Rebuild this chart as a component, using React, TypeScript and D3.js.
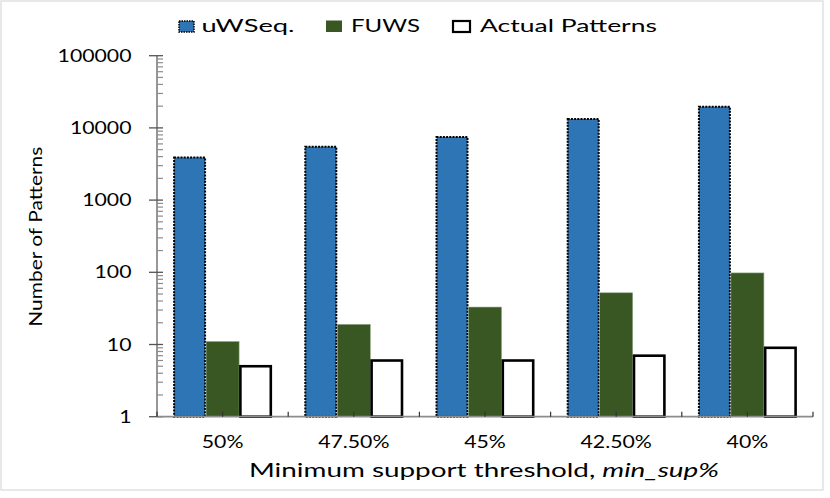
import React from "react";
import * as d3 from "d3";

const categories = ["50%", "47.50%", "45%", "42.50%", "40%"];
const seriesNames = ["uWSeq.", "FUWS", "Actual Patterns"];
const uwseqValues = [3900, 5500, 7500, 13300, 19700];
const fuwsValues = [11, 19, 33, 52, 98];
const actualValues = [5, 6, 6, 7, 9];
const yTickValues = [1, 10, 100, 1000, 10000, 100000];

const W = 830;
const H = 498;
const FONT = "Lato, 'Noto Sans', sans-serif";
const SX = 1.25; // glyphs are wider than tall in the source

const left = 157;
const right = 813;
const top = 55.7;
const bottom = 416.7;

const App = () => {
  const y = d3.scaleLog().domain([1, 100000]).range([bottom, top]);
  const x0 = d3.scaleBand<string>().domain(categories).range([left, right]).padding(0);
  const x1 = d3
    .scaleBand<string>()
    .domain(seriesNames)
    .range([0, x0.bandwidth()])
    .paddingInner(0)
    .paddingOuter(0.488);

  const rows = categories.map((c, i) => ({
    category: c,
    values: [uwseqValues[i], fuwsValues[i], actualValues[i]],
  }));

  // minor ticks 2..9 within each decade
  const minor: number[] = [];
  for (let d = 1; d < 100000; d *= 10) {
    for (let k = 2; k <= 9; k++) minor.push(d * k);
  }

  // x ticks at band edges and centres
  const xTicks: number[] = [];
  categories.forEach((c) => {
    xTicks.push(x0(c)!, x0(c)! + x0.bandwidth() / 2);
  });
  xTicks.push(right);

  const barStyle = (s: number) => {
    if (s === 0)
      return { fill: "#2e75b6", stroke: "#000", strokeWidth: 2, strokeDasharray: "2 1.2" };
    if (s === 1) return { fill: "#385723", stroke: "#8fa585", strokeWidth: 0.6 };
    return { fill: "#fff", stroke: "#000", strokeWidth: 2.6 };
  };

  return (
    <svg
      width={W}
      height={H}
      style={{ position: "absolute", left: 0, top: 0, background: "#fff" }}
      fontFamily={FONT}
    >
      <rect x={1} y={1} width={822} height={489} fill="#fff" stroke="#d9d9d9" strokeWidth={1.2} />

      {/* Legend */}
      <g>
        <rect x={179} y={21} width={15} height={11} fill="#2e75b6" stroke="#000" strokeWidth={1.5} strokeDasharray="1.5 1" />
        <text x={201.5} y={32} fontSize={17} textLength={93} lengthAdjust="spacingAndGlyphs" fill="#000">
          {seriesNames[0]}
        </text>
        <rect x={326} y={20.5} width={16} height={11.5} fill="#385723" />
        <text x={351} y={32} fontSize={17} textLength={69} lengthAdjust="spacingAndGlyphs" fill="#000">
          {seriesNames[1]}
        </text>
        <rect x={453} y={21} width={17} height={11} fill="#fff" stroke="#000" strokeWidth={2.2} />
        <text x={480} y={32} fontSize={17} textLength={177} lengthAdjust="spacingAndGlyphs" fill="#000">
          {seriesNames[2]}
        </text>
      </g>

      {/* Bars */}
      {rows.map((r) => (
        <g key={r.category} transform={`translate(${x0(r.category)},0)`}>
          {r.values.map((v, s) => {
            const st = barStyle(s);
            const bx = x1(seriesNames[s])!;
            return (
              <rect
                key={s}
                x={bx + (s === 2 ? 1.3 : s === 0 ? 1 : 0)}
                y={y(v)}
                width={x1.bandwidth() - (s === 2 ? 2.6 : s === 0 ? 2 : 0)}
                height={bottom - y(v)}
                {...st}
              />
            );
          })}
        </g>
      ))}

      {/* Y axis */}
      <line x1={left} x2={left} y1={top} y2={bottom} stroke="#8c8c8c" strokeWidth={1.8} />
      {minor.map((m) => (
        <line key={m} x1={left} x2={left + 6} y1={y(m)} y2={y(m)} stroke="#8c8c8c" strokeWidth={1.2} />
      ))}
      {yTickValues.map((t) => (
        <g key={t}>
          <line x1={left - 8} x2={left + 6} y1={y(t)} y2={y(t)} stroke="#555" strokeWidth={1.3} />
          <text
            transform={`translate(${131.5},${y(t) + 6}) scale(${SX},1)`}
            textAnchor="end"
            fontSize={17}
            fill="#000"
          >
            {t}
          </text>
        </g>
      ))}

      {/* X axis */}
      <line x1={left} x2={right} y1={bottom} y2={bottom} stroke="#8c8c8c" strokeWidth={1.8} />
      {xTicks.map((t, i) => (
        <line key={i} x1={t} x2={t} y1={bottom} y2={bottom - 5} stroke="#333" strokeWidth={1.2} />
      ))}
      {categories.map((c) => (
        <text
          key={c}
          transform={`translate(${x0(c)! + x0.bandwidth() / 2},448) scale(${SX},1)`}
          textAnchor="middle"
          fontSize={17}
          fill="#000"
        >
          {c}
        </text>
      ))}

      {/* Axis titles */}
      <text x={249} y={477} fontSize={19.5} textLength={470} lengthAdjust="spacingAndGlyphs" fill="#000">
        Minimum support threshold, <tspan fontStyle="italic">min_sup%</tspan>
      </text>
      <text
        transform="translate(42,236.7) rotate(-90)"
        textAnchor="middle"
        fontSize={17}
        textLength={180}
        lengthAdjust="spacingAndGlyphs"
        fill="#000"
      >
        Number of Patterns
      </text>
    </svg>
  );
};

export default App;
